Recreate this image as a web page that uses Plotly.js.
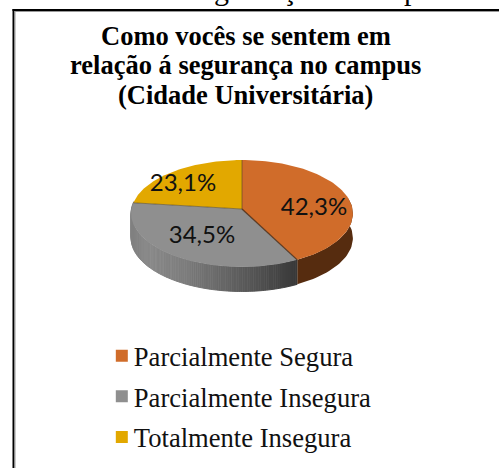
<!DOCTYPE html>
<html><head><meta charset="utf-8">
<script src="https://cdn.plot.ly/plotly-3.0.1.min.js"></script>
<style>html,body{margin:0;padding:0;background:#fff;overflow:hidden}#c{width:499px;height:468px}</style>
</head><body><div id="c"></div>
<script>
const categories = ['Parcialmente Segura','Parcialmente Insegura','Totalmente Insegura'];
const values = [42.3,34.5,23.1];
const colors = ['#d06c2a','#8f8f8f','#e2a800'];
const wallColor = '#562c0f';
const titleLines = ['Como vocês se sentem em','relação á segurança no campus','(Cidade Universitária)'];
const pageHeading = 'Gráfico 6 - Segurança no campus';

// Ellipse projection of the tilted pie
const CX=242, CY=209, RX=110.5, RY=53.1, K=0.084, DEPTH=24.5;
const px=a=>CX+RX*Math.sin(a)/(1+K*Math.cos(a));
const py=a=>CY-RY*Math.cos(a)/(1+K*Math.cos(a));
const total=values.reduce((s,v)=>s+v,0);
const rad=d=>d*Math.PI/180;
let acc=0; const bounds=[0];
values.forEach(v=>{acc+=v;bounds.push(acc/total*2*Math.PI);});
const base={type:'scatter',hoverinfo:'skip',showlegend:false};
const traces=[];
const arc=(a0,a1,n)=>Array.from({length:n+1},(_,i)=>a0+(a1-a0)*i/n);

// side wall: orange part
const wallStart=rad(78), wallEnd=rad(278);
(function(){
  const as=arc(wallStart,bounds[1],40);
  traces.push({...base,mode:'lines',fill:'toself',fillcolor:wallColor,line:{width:0},
    x:[...as.map(px),...as.slice().reverse().map(px)],
    y:[...as.map(py),...as.slice().reverse().map(a=>py(a)+DEPTH)]});
})();
// side wall: gray part as gradient strips
const wallStops=[[131,128],[150,136],[185,124],[220,104],[260,80],[296,56]];
function shade(x){
  for(let i=1;i<wallStops.length;i++){
    if(x<=wallStops[i][0]){
      const [x0,c0]=wallStops[i-1],[x1,c1]=wallStops[i];
      return Math.round(c0+(c1-c0)*Math.max(0,x-x0)/(x1-x0));
    }
  }
  return wallStops[wallStops.length-1][1];
}
const N=120, gas=arc(bounds[1],wallEnd,N);
for(let i=0;i<N;i++){
  const seg=[gas[i],gas[i+1]];
  const c=shade((px(seg[0])+px(seg[1]))/2);
  const col=`rgb(${c},${c},${c})`;
  traces.push({...base,mode:'lines',fill:'toself',fillcolor:col,line:{width:1,color:col},
    x:[px(seg[0]),px(seg[1]),px(seg[1]),px(seg[0])],
    y:[py(seg[0]),py(seg[1]),py(seg[1])+DEPTH,py(seg[0])+DEPTH]});
}
// top faces
values.forEach((v,i)=>{
  const as=arc(bounds[i],bounds[i+1],80);
  traces.push({...base,mode:'lines',fill:'toself',fillcolor:colors[i],line:{width:0},
    x:[CX,...as.map(px),CX],y:[CY,...as.map(py),CY]});
});
// slice edges
[bounds[1],bounds[2],bounds[0]].forEach((a,i)=>{
  traces.push({...base,mode:'lines',line:{width:i==0?1.3:1,color:i==0?'rgba(70,35,10,0.8)':'rgba(70,60,40,0.55)'},
    x:[CX,px(a)],y:[CY,py(a)]});
});
// percent labels
const labelX=[314,202,183], labelY=[209,236.5,185];
traces.push({...base,mode:'text',x:labelX,y:labelY,
  text:values.map(v=>v.toFixed(1).replace('.',',')+'%'),
  textposition:'middle center',
  textfont:{family:'Lato, Carlito, sans-serif',size:24,color:'#111'}});
// legend entries
categories.forEach((c,i)=>{
  traces.push({type:'scatter',mode:'markers',name:c,legendgroup:c,showlegend:true,hoverinfo:'skip',
    x:[null],y:[null],marker:{symbol:'square',size:14,color:colors[i]}});
});

const serif='"Liberation Serif","Times New Roman",serif';
const annotations=titleLines.map((t,i)=>({xref:'x',yref:'y',x:245.5,y:35.5+29.7*i,text:'<b>'+t+'</b>',showarrow:false,
  xanchor:'center',yanchor:'middle',font:{family:serif,size:26.5,color:'#000'}}));
annotations.push({xref:'x',yref:'paper',x:43,y:1+10.5/468,text:pageHeading,showarrow:false,xanchor:'left',yanchor:'middle',
  font:{family:serif,size:30,color:'#000'}});
const layout={
  width:499,height:468,margin:{l:0,r:0,t:0,b:0},paper_bgcolor:'#fff',plot_bgcolor:'#fff',
  xaxis:{range:[0,499],visible:false,fixedrange:true},
  yaxis:{range:[468,0],visible:false,fixedrange:true},
  annotations,
  shapes:[
    {type:'line',xref:'x',yref:'y',x0:13.5,x1:13.5,y0:9,y1:468,line:{color:'#000',width:2}},
    {type:'line',xref:'x',yref:'y',x0:15,x1:15,y0:11,y1:468,line:{color:'#999',width:1}},
    {type:'line',xref:'x',yref:'y',x0:12.5,x1:499,y0:10,y1:10,line:{color:'#000',width:2}},
    {type:'line',xref:'x',yref:'y',x0:15,x1:499,y0:11.5,y1:11.5,line:{color:'#999',width:1}}
  ],
  showlegend:true,
  legend:{x:0.188,y:1-332/468,xanchor:'left',yanchor:'top',bgcolor:'rgba(0,0,0,0)',tracegroupgap:3,
    font:{family:serif,size:26.6,color:'#111'},itemsizing:'constant',itemwidth:30}
};
Plotly.newPlot('c',traces,layout,{displayModeBar:false,staticPlot:true}).then(()=>{
  // Move legend swatches next to their labels
  document.querySelectorAll('#c .legendpoints').forEach(g=>{
    g.setAttribute('transform','translate(8,0)');
  });
});
</script></body></html>
